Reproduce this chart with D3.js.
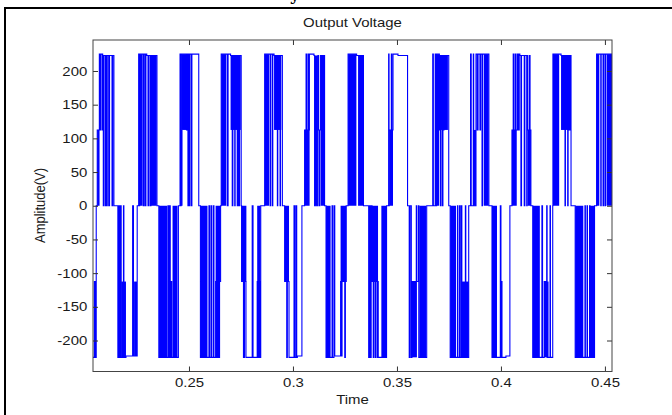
<!DOCTYPE html>
<html>
<head>
<meta charset="utf-8">
<script src="https://cdn.jsdelivr.net/npm/d3@7"></script>
<style>
  body { margin: 0; background: #fff; }
  text { font-family: "Liberation Sans", Arial, sans-serif; }
</style>
</head>
<body>
<div id="chart"></div>
<script>
// switching instants (s) and the level the output takes at that instant (V)
var stepTime = [
  0.2035, 0.2045, 0.2050, 0.2054,
  0.2059, 0.2069, 0.2072, 0.2075, 0.2082, 0.2083, 0.2085, 0.2088, 0.2091, 0.2098, 0.2101, 0.2104, 0.2107, 0.2114, 0.2118, 0.2130, 0.2133, 0.2139,
  0.2158, 0.2163, 0.2167, 0.2172, 0.2174, 0.2185, 0.2187, 0.2197, 0.2229, 0.2233, 0.2251,
  0.2258, 0.2261, 0.2263, 0.2280, 0.2284, 0.2290, 0.2293, 0.2297, 0.2303, 0.2306, 0.2313, 0.2317, 0.2346,
  0.2355, 0.2399, 0.2402, 0.2407, 0.2410, 0.2414, 0.2418, 0.2449,
  0.2457, 0.2459, 0.2462, 0.2488, 0.2490, 0.2495, 0.2498, 0.2502, 0.2505, 0.2512, 0.2514, 0.2547,
  0.2555, 0.2596, 0.2599, 0.2606, 0.2609, 0.2617, 0.2620, 0.2628, 0.2632, 0.2637, 0.2642, 0.2647, 0.2652,
  0.2655, 0.2684, 0.2688, 0.2700, 0.2708, 0.2711, 0.2720, 0.2722, 0.2732, 0.2735, 0.2740, 0.2743, 0.2751,
  0.2753, 0.2762, 0.2767, 0.2774, 0.2804, 0.2808, 0.2828, 0.2832, 0.2837, 0.2841, 0.2845,
  0.2864, 0.2890, 0.2893, 0.2901, 0.2903, 0.2909, 0.2925, 0.2927, 0.2938, 0.2940, 0.2949,
  0.2960, 0.2970, 0.2973, 0.2981, 0.3005, 0.3008, 0.3014, 0.3018, 0.3021, 0.3043,
  0.3056, 0.3063, 0.3065, 0.3072, 0.3075, 0.3079, 0.3101, 0.3104, 0.3120, 0.3123, 0.3127, 0.3129, 0.3132, 0.3152,
  0.3159, 0.3188, 0.3190, 0.3197, 0.3201, 0.3229, 0.3232, 0.3236, 0.3249, 0.3252, 0.3256,
  0.3265, 0.3306, 0.3339,
  0.3364, 0.3368, 0.3372, 0.3376, 0.3380, 0.3386, 0.3389, 0.3396, 0.3398, 0.3405, 0.3408, 0.3410, 0.3450,
  0.3460, 0.3462, 0.3463, 0.3473, 0.3475, 0.3481, 0.3505, 0.3551,
  0.3559, 0.3563, 0.3569, 0.3572, 0.3593, 0.3595, 0.3603, 0.3605, 0.3643,
  0.3672, 0.3675, 0.3684, 0.3688, 0.3691, 0.3704, 0.3707, 0.3709, 0.3712, 0.3719, 0.3721, 0.3725, 0.3726, 0.3749,
  0.3756, 0.3791, 0.3793, 0.3801, 0.3803, 0.3809, 0.3812, 0.3829, 0.3831, 0.3845,
  0.3854, 0.3857, 0.3867, 0.3869, 0.3880, 0.3886, 0.3890, 0.3899, 0.3902, 0.3909, 0.3911, 0.3942,
  0.3957, 0.3997, 0.4000, 0.4003, 0.4005, 0.4024, 0.4043,
  0.4053, 0.4059, 0.4063, 0.4070, 0.4072, 0.4079, 0.4083, 0.4088, 0.4091, 0.4096, 0.4099, 0.4112, 0.4115, 0.4124, 0.4126, 0.4128, 0.4136, 0.4140, 0.4144,
  0.4153, 0.4197, 0.4200, 0.4208, 0.4220, 0.4222, 0.4236, 0.4238, 0.4249,
  0.4250, 0.4289, 0.4308, 0.4310, 0.4321, 0.4323, 0.4328, 0.4332, 0.4337,
  0.4357, 0.4404, 0.4406, 0.4414, 0.4416, 0.4426, 0.4428, 0.4450,
  0.4460, 0.4480, 0.4482, 0.4491, 0.4493, 0.4500, 0.4503, 0.4539
];
var stepLevel = [
  -225, -112.5, -225, 0,
  112.5, 225, 112.5, 225, 112.5, 225, 223, 0, 223, 0, 223, 0, 223, 0, 223, 0, 223, 0,
  -225, 0, -225, 0, -225, 0, -225, -223, 0, -223, 0,
  225, 0, 225, 0, 225, 0, 225, 223, 0, 223, 0, 223, 0,
  -225, 0, -225, 0, -225, -112.5, -225, 0,
  225, 0, 225, 112.5, 225, 0, 225, 0, 225, 0, 225, 0,
  -225, 0, -225, 0, -225, 0, -225, -112.5, -225, -112.5, -225, -112.5, 0,
  225, 0, 225, 223, 0, 223, 0, 223, 0, 223, 0, 223, 0,
  -112.5, -225, -112.5, -225, 0, -225, -112.5, -225, -112.5, -225, 0,
  225, 0, 225, 0, 225, 223, 0, 223, 0, 223, 0,
  -112.5, -225, -112.5, -225, 0, -225, 0, -225, -223, 0,
  112.5, 225, 112.5, 225, 112.5, 225, 223, 0, 223, 112.5, 0, 112.5, 223, 0,
  -225, 0, -225, 0, -223, -112.5, -223, -112.5, -225, -112.5, 0,
  225, 223, 0,
  -225, 0, -225, 0, -112.5, -225, -112.5, -225, -112.5, -225, -112.5, -225, 0,
  225, 0, 112.5, 225, 112.5, 225, 223, 0,
  -225, 0, -225, -112.5, 0, -112.5, 0, -225, 0,
  225, 0, 225, 0, 225, 112.5, 223, 0, 223, 0, 223, 112.5, 223, 0,
  -225, 0, -225, 0, -225, 0, -225, 0, -225, 0,
  225, 0, 225, 0, 225, 112.5, 225, 112.5, 225, 0, 225, 0,
  -225, 0, -225, -112.5, -225, -223, 0,
  112.5, 225, 112.5, 225, 112.5, 225, 112.5, 225, 223, 0, 223, 0, 223, 0, 223, 112.5, 223, 112.5, 0,
  -225, 0, -225, -112.5, 0, -225, 0, -225, 0,
  225, 223, 0, 223, 0, 223, 112.5, 223, 0,
  -225, 0, -225, 0, -225, 0, -225, 0,
  225, 0, 225, 0, 225, 0, 225, 0
];

// stretches of very fast switching between two levels (look solid at this scale)
var bandFrom = [0.2043, 0.2059, 0.2174, 0.2236, 0.2263, 0.2317, 0.2356, 0.2421, 0.2458, 0.2462,
  0.2556, 0.2628, 0.2655, 0.2700, 0.2753, 0.2828, 0.2864, 0.2909, 0.2960, 0.3056,
  0.3104, 0.3133, 0.3159, 0.3229, 0.3265, 0.3313, 0.3380, 0.3425, 0.3463, 0.3572,
  0.3607, 0.3691, 0.3697, 0.3756, 0.3809, 0.3867, 0.3917, 0.3957, 0.4053, 0.4128,
  0.4153, 0.4207, 0.4250, 0.4289, 0.4357, 0.4428, 0.4460, 0.4508];
var bandTo = [0.2053, 0.2070, 0.2197, 0.2250, 0.2277, 0.2345, 0.2396, 0.2445, 0.2469, 0.2488,
  0.2589, 0.2651, 0.2679, 0.2749, 0.2776, 0.2844, 0.2885, 0.2944, 0.2981, 0.3080,
  0.3120, 0.3152, 0.3181, 0.3256, 0.3305, 0.3338, 0.3409, 0.3449, 0.3481, 0.3596,
  0.3640, 0.3703, 0.3745, 0.3784, 0.3845, 0.3880, 0.3941, 0.3981, 0.4076, 0.4144,
  0.4187, 0.4229, 0.4280, 0.4328, 0.4396, 0.4449, 0.4473, 0.4539];
var bandLow = [-225, 0, -225, -223, 0, 0, -225, -225, 0, 112.5,
  -225, -112.5, 0, 112.5, -112.5, -112.5, 0, 112.5, -112.5, 0,
  0, 0, -225, -112.5, 0, 0, -112.5, -225, 0, -225,
  -225, 0, 112.5, -225, -225, 0, 0, -225, 0, 0,
  -225, -225, 0, 112.5, -225, -225, 0, 0];
var bandHigh = [-112.5, 112.5, -112.5, -112.5, 225, 223, 0, 0, 112.5, 225,
  0, 0, 225, 223, 0, 0, 225, 223, 0, 112.5,
  223, 223, 0, 0, 225, 223, 0, 0, 112.5, -112.5,
  0, 225, 223, 0, -112.5, 112.5, 225, 0, 112.5, 112.5,
  0, -112.5, 225, 223, 0, 0, 225, 225];

var xTicks = [0.25, 0.3, 0.35, 0.4, 0.45];
var yTicks = [-200, -150, -100, -50, 0, 50, 100, 150, 200];

var width = 672, height = 415;
var plot = {left: 93, right: 612, top: 40, bottom: 371.5};
var stretch = "scale(1.15,1)";

var svg = d3.select("#chart").append("svg")
  .attr("width", width)
  .attr("height", height);

svg.append("rect").attr("width", width).attr("height", height).attr("fill", "#fff");

// page frame and the cut caption above
svg.append("line").attr("x1", 5).attr("y1", 8).attr("x2", 5).attr("y2", height)
  .attr("stroke", "#000").attr("stroke-width", 2);
svg.append("line").attr("x1", 4).attr("y1", 8).attr("x2", width).attr("y2", 8)
  .attr("stroke", "#000").attr("stroke-width", 2);
svg.append("text").attr("x", 290).attr("y", 0)
  .style("font-family", "DejaVu Serif").style("font-weight", "bold").style("font-size", "16px")
  .text("y");

var x = d3.scaleLinear().domain([0.20385, 0.4534]).range([plot.left, plot.right]);
var y = d3.scaleLinear().domain([-246, 246]).range([plot.bottom, plot.top]);

svg.append("clipPath").attr("id", "clip")
  .append("rect")
  .attr("x", plot.left).attr("y", plot.top)
  .attr("width", plot.right - plot.left).attr("height", plot.bottom - plot.top);

var wave = svg.append("g").attr("clip-path", "url(#clip)");

var bands = d3.range(bandFrom.length).map(function(i) {
  return {t0: bandFrom[i], t1: bandTo[i], lo: bandLow[i], hi: bandHigh[i]};
});

wave.selectAll("rect.band")
  .data(bands)
  .enter()
  .append("rect")
  .attr("class", "band")
  .attr("x", function(d) { return x(d.t0); })
  .attr("width", function(d) { return x(d.t1) - x(d.t0); })
  .attr("y", function(d) { return y(d.hi); })
  .attr("height", function(d) { return y(d.lo) - y(d.hi); })
  .attr("fill", "#0000ff");

var points = stepTime.map(function(t, i) { return [t, stepLevel[i]]; });

var line = d3.line()
  .x(function(d) { return x(d[0]); })
  .y(function(d) { return y(d[1]); })
  .curve(d3.curveStepAfter);

wave.append("path")
  .datum(points)
  .attr("d", line)
  .attr("fill", "none")
  .attr("stroke", "#0000ff")
  .attr("stroke-width", 1.1);

// axes, ticks pointing inwards on all four sides
var plain = function(d) { return String(d); };
var bottomAxis = svg.append("g")
  .attr("transform", "translate(0," + plot.bottom + ")")
  .call(d3.axisBottom(x).tickValues(xTicks).tickSizeInner(-5).tickSizeOuter(0).tickPadding(6)
    .tickFormat(plain));
var leftAxis = svg.append("g")
  .attr("transform", "translate(" + plot.left + ",0)")
  .call(d3.axisLeft(y).tickValues(yTicks).tickSizeInner(-5).tickSizeOuter(0).tickPadding(5)
    .tickFormat(plain));
var topAxis = svg.append("g")
  .attr("transform", "translate(0," + plot.top + ")")
  .call(d3.axisTop(x).tickValues(xTicks).tickSizeInner(-5).tickSizeOuter(0).tickFormat(""));
var rightAxis = svg.append("g")
  .attr("transform", "translate(" + plot.right + ",0)")
  .call(d3.axisRight(y).tickValues(yTicks).tickSizeInner(-5).tickSizeOuter(0).tickFormat(""));

[bottomAxis, leftAxis, topAxis, rightAxis].forEach(function(a) {
  a.select(".domain").remove();
  a.selectAll(".tick line").attr("stroke", "#333");
  a.selectAll(".tick text")
    .style("font-size", "13px")
    .attr("fill", "#1a1a1a")
    .attr("transform", stretch);
});

svg.append("rect")
  .attr("x", plot.left).attr("y", plot.top)
  .attr("width", plot.right - plot.left).attr("height", plot.bottom - plot.top)
  .attr("fill", "none")
  .attr("stroke", "#444")
  .attr("stroke-width", 1);

// titles
svg.append("text")
  .attr("transform", "translate(352.5,27) " + stretch)
  .attr("text-anchor", "middle")
  .style("font-size", "13px")
  .attr("fill", "#1a1a1a")
  .text("Output Voltage");

svg.append("text")
  .attr("transform", "translate(352.5,404) " + stretch)
  .attr("text-anchor", "middle")
  .style("font-size", "13px")
  .attr("fill", "#1a1a1a")
  .text("Time");

svg.append("text")
  .attr("transform", "translate(45,205.5) " + stretch + " rotate(-90)")
  .attr("text-anchor", "middle")
  .style("font-size", "13px")
  .attr("fill", "#1a1a1a")
  .text("Amplitude(V)");
</script>
</body>
</html>
